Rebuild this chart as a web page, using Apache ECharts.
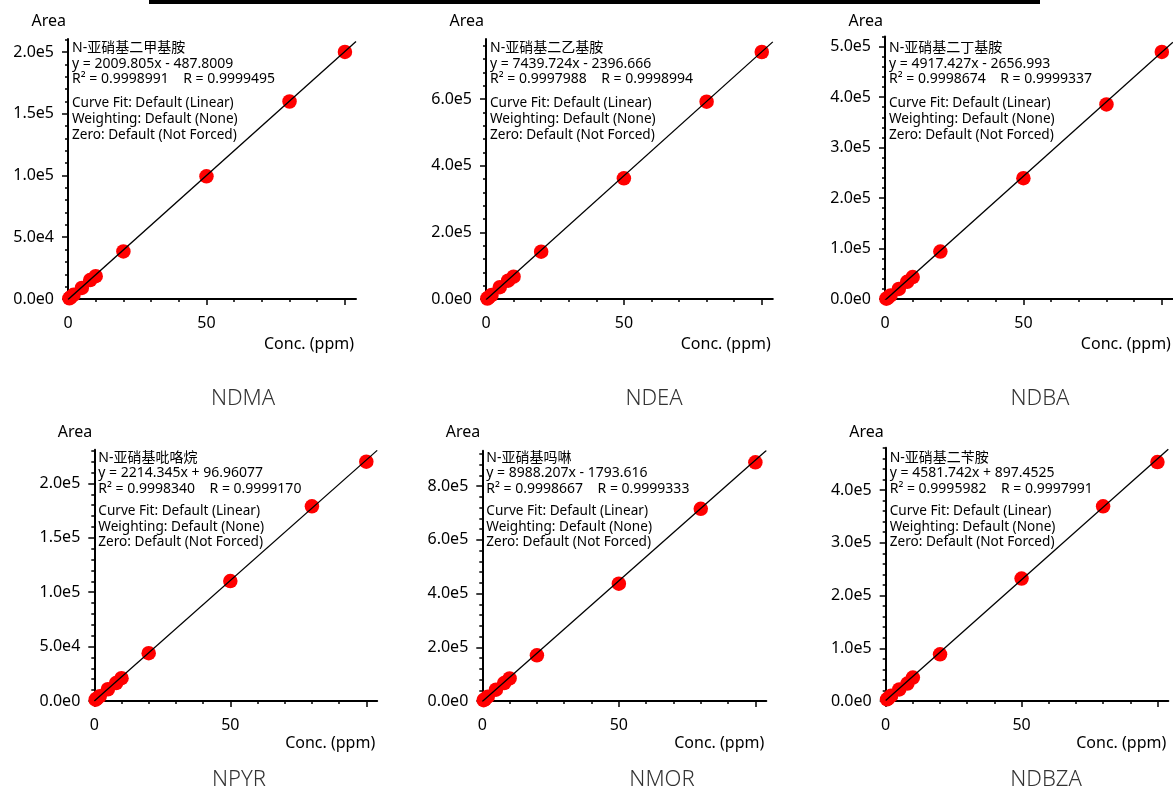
<!DOCTYPE html>
<html>
<head>
<meta charset="utf-8">
<script src="https://cdn.jsdelivr.net/npm/echarts@6/dist/echarts.min.js"></script>
<style>
html,body{margin:0;padding:0;background:#fff;}
#c{width:1173px;height:789px;}
</style>
</head>
<body>
<div id="c"></div>
<script>
// ---------------- data ----------------
const conc = [0.5, 1, 2, 5, 8, 10, 20, 50, 80, 100];

const ndma  = [520, 1500, 3400, 9000, 15300, 18500, 38500, 99300, 159900, 200000];
const ndea  = [1500, 5000, 12000, 35500, 55000, 67000, 142000, 362000, 592000, 741000];
const ndba  = [500, 2300, 7000, 20000, 34000, 43500, 94000, 239500, 385500, 489500];
const npyr  = [1200, 2300, 4400, 10800, 16500, 21000, 44000, 110300, 179000, 220000];
const nmor  = [2800, 7000, 16000, 42000, 67000, 84000, 170000, 437000, 716000, 889000];
const ndbza = [3200, 5400, 10000, 22000, 33000, 44500, 88500, 232000, 369000, 453000];

const compounds = ['NDMA', 'NDEA', 'NDBA', 'NPYR', 'NMOR', 'NDBZA'];
const cnNames = ['N-亚硝基二甲基胺', 'N-亚硝基二乙基胺', 'N-亚硝基二丁基胺', 'N-亚硝基吡咯烷', 'N-亚硝基吗啉', 'N-亚硝基二苄胺'];
const slopes = [2009.805, 7439.724, 4917.427, 2214.345, 8988.207, 4581.742];
const intercepts = [-487.8009, -2396.666, -2656.993, 96.96077, -1793.616, 897.4525];
const equations = [
  'y = 2009.805x - 487.8009',
  'y = 7439.724x - 2396.666',
  'y = 4917.427x - 2656.993',
  'y = 2214.345x + 96.96077',
  'y = 8988.207x - 1793.616',
  'y = 4581.742x + 897.4525'
];
const rSquared = ['0.9998991', '0.9997988', '0.9998674', '0.9998340', '0.9998667', '0.9995982'];
const rValues  = ['0.9999495', '0.9998994', '0.9999337', '0.9999170', '0.9999333', '0.9997991'];
const fitNotes = ['Curve Fit: Default (Linear)', 'Weighting: Default (None)', 'Zero: Default (Not Forced)'];
const xAxisTitle = 'Conc. (ppm)';
const yAxisTitle = 'Area';

const xTicks = [0, 50, 100];
const xLabels = [0, 50];
const xMinorStep = 10;
const xMax = 104;

const yTicksNDMA  = [0, 5e4, 1e5, 1.5e5, 2e5];
const yTicksNDEA  = [0, 2e5, 4e5, 6e5];
const yTicksNDBA  = [0, 1e5, 2e5, 3e5, 4e5, 5e5];
const yTicksNPYR  = [0, 5e4, 1e5, 1.5e5, 2e5];
const yTicksNMOR  = [0, 2e5, 4e5, 6e5, 8e5];
const yTicksNDBZA = [0, 1e5, 2e5, 3e5, 4e5];
const yMinorStep = [1e4, 4e4, 2e4, 1e4, 4e4, 2e4];
const yMax = [2.105e5, 7.8e5, 5.2e5, 2.31e5, 9.32e5, 4.8e5];

const seriesValues = [ndma, ndea, ndba, npyr, nmor, ndbza];
const yTicks = [yTicksNDMA, yTicksNDEA, yTicksNDBA, yTicksNPYR, yTicksNMOR, yTicksNDBZA];

// ---------------- layout ----------------
const layout = [
  {left: 68,    top: 39,    width: 288,   height: 260,   titleX: 243,  row: 0},
  {left: 486,   top: 39,    width: 286.8, height: 260,   titleX: 654,  row: 0},
  {left: 885,   top: 36.6,  width: 287.9, height: 262.4, titleX: 1040, row: 0},
  {left: 94.3,  top: 449.7, width: 282.9, height: 251.3, titleX: 239,  row: 1},
  {left: 482.3, top: 450.8, width: 284,   height: 250.2, titleX: 662,  row: 1},
  {left: 885.7, top: 447.8, width: 282.6, height: 253.2, titleX: 1046, row: 1}
];
const rowTitleTop = [388, 769];
const rowAreaY = [21.5, 432.5];
const rowAnnoTop1 = [40.2, 450.7];
const rowAnnoLH1 = [15.7, 15.2];
const rowAnnoTop2 = [95.3, 503.1];
const rowAnnoLH2 = [16, 15.8];
const rowXNameDy = [45, 42];

const FONT = '"Noto Sans", "Noto Sans CJK SC", sans-serif';
const fmtExp = v => v.toExponential(1).replace('e+', 'e');

const grids = [], xAxes = [], yAxes = [], series = [], titles = [], graphics = [];

layout.forEach((L, i) => {
  grids.push({left: L.left, top: L.top, width: L.width, height: L.height, containLabel: false, outerBoundsMode: 'none'});

  const minorX = [];
  for (let v = 0; v <= xTicks[xTicks.length - 1]; v += xMinorStep) minorX.push(v);
  const minorY = [];
  for (let k = 0; k * yMinorStep[i] <= yMax[i] + 1e-6; k++) minorY.push(k * yMinorStep[i]);

  // minor x axis (with axis line)
  xAxes.push({
    gridIndex: i, type: 'value', min: 0, max: xMax, interval: xMinorStep, position: 'bottom',
    axisLine: {show: true, onZero: false, lineStyle: {color: '#000', width: 2}},
    axisTick: {show: true, length: 3, lineStyle: {color: '#000', width: 1.5}, customValues: minorX},
    axisLabel: {show: false}, splitLine: {show: false}
  });
  // major x axis (labels)
  xAxes.push({
    gridIndex: i, type: 'value', min: 0, max: xMax, interval: 50, position: 'bottom',
    axisLine: {show: false, onZero: false},
    axisTick: {show: true, length: 6, lineStyle: {color: '#000', width: 1.5}, customValues: xTicks},
    axisLabel: {show: true, customValues: xLabels, margin: 16, fontSize: 16, color: '#000', fontFamily: FONT},
    splitLine: {show: false}
  });
  // minor y axis (with axis line)
  yAxes.push({
    gridIndex: i, type: 'value', min: 0, max: yMax[i], interval: yMinorStep[i], position: 'left',
    axisLine: {show: true, onZero: false, lineStyle: {color: '#000', width: 2}},
    axisTick: {show: true, length: 3, lineStyle: {color: '#000', width: 1.5}, customValues: minorY},
    axisLabel: {show: false}, splitLine: {show: false}
  });
  // major y axis (labels)
  yAxes.push({
    gridIndex: i, type: 'value', min: 0, max: yMax[i], interval: yMinorStep[i] * 5, position: 'left',
    axisLine: {show: false, onZero: false},
    axisTick: {show: true, length: 6, lineStyle: {color: '#000', width: 1.5}, customValues: yTicks[i]},
    axisLabel: {show: true, customValues: yTicks[i], margin: 14, fontSize: 16, color: '#000', fontFamily: FONT, formatter: fmtExp},
    splitLine: {show: false},
    name: yAxisTitle, nameLocation: 'end', nameGap: L.top - rowAreaY[L.row],
    nameTextStyle: {fontSize: 16, color: '#000', fontFamily: FONT, align: 'right', verticalAlign: 'middle', padding: [0, 2, 0, 0]}
  });

  series.push({
    type: 'scatter', xAxisIndex: 2 * i, yAxisIndex: 2 * i,
    data: conc.map((c, k) => [c, seriesValues[i][k]]),
    symbol: 'circle', symbolSize: 14.5, itemStyle: {color: '#ff0000', opacity: 1},
    clip: false, z: 2, silent: true
  });
  series.push({
    type: 'line', xAxisIndex: 2 * i, yAxisIndex: 2 * i,
    data: [[0, intercepts[i]], [xMax, slopes[i] * xMax + intercepts[i]]],
    symbol: 'none', showSymbol: false, lineStyle: {color: '#000', width: 1.3},
    z: 3, silent: true, clip: true
  });

  titles.push({
    text: compounds[i], left: L.titleX, top: rowTitleTop[L.row], textAlign: 'center', padding: 0,
    textStyle: {fontSize: 22, fontWeight: 300, color: '#333', fontFamily: FONT}
  });

  // x-axis title placed under the right end of the axis
  graphics.push({
    type: 'text', x: L.left + L.width - 2, y: L.top + L.height + rowXNameDy[L.row], silent: true,
    style: {text: xAxisTitle, fontSize: 16, fontFamily: FONT, fill: '#000', align: 'right', verticalAlign: 'middle'}
  });

  graphics.push({
    type: 'text', x: L.left + 4, y: rowAnnoTop1[L.row], silent: true,
    style: {
      text: [cnNames[i], equations[i], 'R² = ' + rSquared[i] + '    R = ' + rValues[i]].join('\n'),
      fontSize: 14, fontFamily: FONT, lineHeight: rowAnnoLH1[L.row], fill: '#000', verticalAlign: 'top', align: 'left'
    }
  });
  graphics.push({
    type: 'text', x: L.left + 4, y: rowAnnoTop2[L.row], silent: true,
    style: {
      text: fitNotes.join('\n'),
      fontSize: 13.6, fontFamily: FONT, lineHeight: rowAnnoLH2[L.row], fill: '#000', verticalAlign: 'top', align: 'left'
    }
  });
});

// dark strip along the top edge of the image
graphics.push({type: 'rect', silent: true, shape: {x: 149, y: 0, width: 891, height: 4}, style: {fill: '#000'}});

const chart = echarts.init(document.getElementById('c'), null, {renderer: 'canvas'});
chart.setOption({
  animation: false,
  backgroundColor: '#fff',
  textStyle: {fontFamily: FONT},
  title: titles,
  grid: grids,
  xAxis: xAxes,
  yAxis: yAxes,
  series: series,
  graphic: graphics
});
</script>
</body>
</html>
